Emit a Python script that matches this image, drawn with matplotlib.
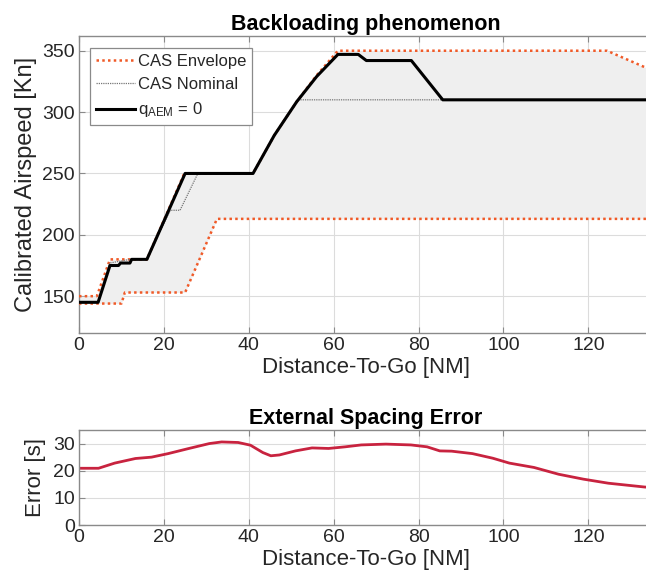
import numpy as np
import matplotlib
matplotlib.use("Agg")
import matplotlib.pyplot as plt

plt.rcParams['font.family'] = ['Liberation Sans', 'DejaVu Sans']
plt.rcParams['mathtext.fontset'] = 'custom'
plt.rcParams['mathtext.rm'] = 'Liberation Sans'
plt.rcParams['mathtext.it'] = 'Liberation Sans'

# Datos (distancia NM, velocidad kn)
env_up_d = [0, 4.2, 7.3, 16, 24.8, 41, 46, 51.3, 56, 61, 124.4, 135]
env_up_v = [150, 150, 180, 180, 250, 250, 281, 308.5, 330, 350, 350, 334]
env_lo_d = [0, 10, 10.8, 25, 32.5, 135]
env_lo_v = [144, 144, 153, 153, 213, 213]

nom_d = [0, 4.5, 7.2, 12, 16, 21.5, 23.8, 28, 41, 46, 51.7, 135]
nom_v = [145, 145, 177, 180, 180, 220, 220, 250, 250, 281, 310, 310]

aem_d = [0, 4.5, 7.3, 9.3, 9.8, 12, 12.4, 16, 25, 41, 46, 51.3, 56, 61, 65.8, 67.7, 78.3, 85.7, 135]
aem_v = [145, 145, 175, 175, 177, 177, 180, 180, 250, 250, 281, 308.5, 329, 347, 347, 342, 342, 310, 310]

# Error de espaciado externo
err_d = [0, 4.6, 8.4, 13.3, 17.1, 21, 25.9, 30.7, 33.6, 37.5, 40.4, 43.3, 45.2, 47.2, 51,
         54.9, 58.8, 62.7, 66.5, 72.3, 78.2, 82, 85, 87.8, 92.7, 97.5, 101.4, 107.2,
         113, 118.8, 124.7, 133.2, 135]
err_v = [20.9, 20.9, 22.8, 24.5, 25, 26.3, 28.2, 30, 30.6, 30.4, 29.4, 26.7, 25.5, 25.8, 27.3,
         28.4, 28.2, 28.8, 29.5, 29.8, 29.5, 28.8, 27.3, 27.2, 26.3, 24.6, 22.8, 21.2,
         18.7, 16.9, 15.4, 14, 13.8]

xticks = [0, 20, 40, 60, 80, 100, 120]
orange = '#f05a28'
txt = '#262626'

fig = plt.figure(figsize=(6.46, 5.81), dpi=100)
W, H = 646.0, 581.0

def style(ax):
    ax.grid(True, color='#dcdcdc', linewidth=0.8)
    ax.set_axisbelow(True)
    ax.tick_params(direction='in', top=True, right=True, length=4,
                   labelsize=14, colors=txt, pad=3)
    ax.tick_params(axis='both', color='#8a8a8a')
    for s in ax.spines.values():
        s.set_color('#8a8a8a')
        s.set_linewidth(1.0)

# Grafica superior
ax1 = fig.add_axes([79 / W, (H - 333) / H, 573 / W, (333 - 36) / H])
grid_d = np.union1d(env_up_d, env_lo_d)
ax1.fill_between(grid_d, np.interp(grid_d, env_lo_d, env_lo_v),
                 np.interp(grid_d, env_up_d, env_up_v),
                 color='#efefef', linewidth=0, zorder=1)
l1, = ax1.plot(env_up_d, env_up_v, color=orange, linestyle=(0, (1, 1.3)), linewidth=1.8, zorder=3)
ax1.plot(env_lo_d, env_lo_v, color=orange, linestyle=(0, (1, 1.3)), linewidth=1.8, zorder=3)
l2, = ax1.plot(nom_d, nom_v, color='#777777', linestyle=(0, (1, 0.8)), linewidth=0.9, zorder=4)
l3, = ax1.plot(aem_d, aem_v, color='black', linewidth=2.2, zorder=5)
ax1.set_xlim(0, 135)
ax1.set_ylim(120, 362)
ax1.set_xticks(xticks)
ax1.set_yticks([150, 200, 250, 300, 350])
style(ax1)
ax1.set_title('Backloading phenomenon', fontsize=15.5, fontweight='bold', color='black', pad=4)
ax1.set_xlabel('Distance-To-Go [NM]', fontsize=16, color=txt, labelpad=2)
ax1.set_ylabel('Calibrated Airspeed [Kn]', fontsize=17, color=txt, labelpad=4)
leg = ax1.legend([l1, l2, l3], ['CAS Envelope', 'CAS Nominal', r'q$_{\mathrm{AEM}}$ = 0'],
                 loc='upper left', bbox_to_anchor=(0.02, 0.96), fontsize=12,
                 handlelength=2.3, handletextpad=0.2, borderpad=0.35, labelspacing=0.5,
                 fancybox=False, framealpha=1, edgecolor='#8a8a8a', borderaxespad=0)
leg.get_frame().set_linewidth(0.9)
for t in leg.get_texts():
    t.set_color(txt)

# Grafica inferior
ax2 = fig.add_axes([79 / W, (H - 525) / H, 573 / W, (525 - 430) / H])
ax2.plot(err_d, err_v, color='#c8233f', linewidth=2)
ax2.set_xlim(0, 135)
ax2.set_ylim(0, 35)
ax2.set_xticks(xticks)
ax2.set_yticks([0, 10, 20, 30])
style(ax2)
ax2.set_title('External Spacing Error', fontsize=15.5, fontweight='bold', color='black', pad=4)
ax2.set_xlabel('Distance-To-Go [NM]', fontsize=16, color=txt, labelpad=2)
ax2.set_ylabel('Error [s]', fontsize=16, color=txt, labelpad=5)

fig.savefig('out.png', dpi=100)
